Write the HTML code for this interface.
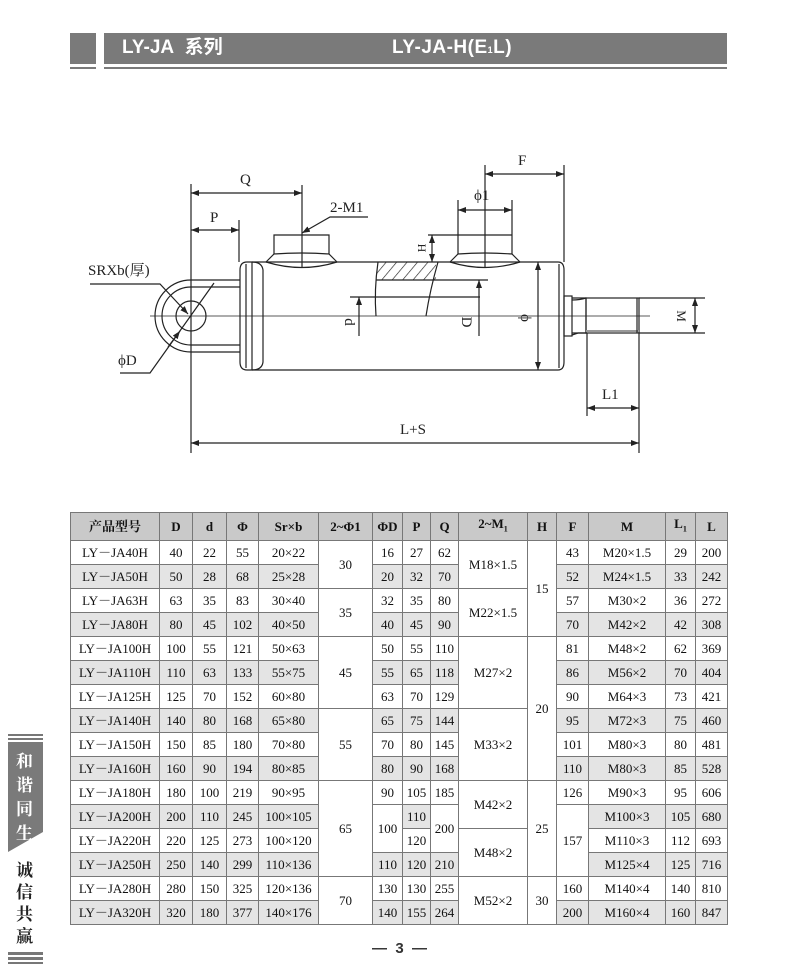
<!DOCTYPE html>
<html><head><meta charset="utf-8"><style>
body{margin:0;width:800px;height:974px;background:#fff;position:relative;overflow:hidden;font-family:"Liberation Serif","Noto Serif CJK SC",serif}
.abs{position:absolute}
table{position:absolute;left:70px;top:512px;border-collapse:collapse;table-layout:fixed;width:657px}
td{border:1px solid #777;text-align:center;font-size:13px;height:23px;padding:0;color:#111;line-height:13px}
tr.h td{background:#c9c9c9;height:27px;font-size:13px;font-weight:bold}
tr.g td.s{background:#e4e4e4}
</style></head><body>
<div class="abs" style="left:70px;top:33px;width:26px;height:31px;background:#7a7a7a"></div>
<div class="abs" style="left:104px;top:33px;width:623px;height:31px;background:#7a7a7a"></div>
<div class="abs" style="left:70px;top:67px;width:26px;height:2px;background:#7a7a7a"></div>
<div class="abs" style="left:104px;top:67px;width:623px;height:2px;background:#7a7a7a"></div>
<div class="abs" style="left:122px;top:37px;color:#fff;font:bold 19px 'Liberation Sans','Noto Sans CJK SC',sans-serif;line-height:22px">LY-JA&nbsp; 系列</div>
<div class="abs" style="left:392px;top:37px;color:#fff;font:bold 19px 'Liberation Sans',sans-serif;line-height:22px;letter-spacing:0.5px">LY-JA-H(E<span style="font-size:9px">1</span>L)</div>

<svg class="abs" style="left:0;top:0" width="800" height="480" viewBox="0 0 800 480" fill="none" stroke="#222" stroke-width="1.2" font-family="Liberation Serif" >
<defs><marker id="a" markerWidth="8" markerHeight="6" refX="8" refY="3" orient="auto-start-reverse" markerUnits="userSpaceOnUse"><path d="M0,0L8,3L0,6z" fill="#222" stroke="none"/></marker>
<pattern id="ht" width="8" height="8" patternUnits="userSpaceOnUse" patternTransform="rotate(40)"><line x1="0" y1="0" x2="0" y2="8" stroke="#222" stroke-width="1.3"/></pattern></defs>
<line x1="150" y1="316" x2="650" y2="316" stroke-width="0.8"/>
<line x1="191" y1="184" x2="191" y2="453"/>
<line x1="191" y1="193" x2="302" y2="193" marker-start="url(#a)" marker-end="url(#a)"/>
<line x1="302" y1="185" x2="302" y2="267"/>
<line x1="191" y1="230" x2="239" y2="230" marker-start="url(#a)" marker-end="url(#a)"/>
<line x1="239" y1="220" x2="239" y2="262"/>
<circle cx="191" cy="316" r="15"/>
<path d="M240,280 H191 A36,36 0 0 0 191,352 H240"/>
<path d="M240,287 H191 A29,29 0 0 0 191,345 H240"/>
<path d="M263,262 H247 Q240,262 240,270 V362 Q240,370 247,370 H263"/>
<line x1="246" y1="264" x2="246" y2="368"/>
<line x1="252" y1="262" x2="252" y2="370"/>
<path d="M252,262 Q262,262 263,270 V362 Q262,370 252,370"/>
<path d="M263,262 H558 Q564,262 564,270 V362 Q564,370 558,370 H263"/>
<line x1="559" y1="264" x2="559" y2="368"/>
<path d="M274,254 V235 H329 V254"/>
<path d="M266,262 L274,254 Q302,252 329,254 L337,262"/>
<path d="M266,262 Q302,273 337,262"/>
<path d="M458,254 V235 M512,235 V254"/>
<path d="M450,262 L458,254 Q485,252 512,254 L520,262"/>
<path d="M450,262 Q485,273 520,262"/>
<line x1="485" y1="165" x2="485" y2="267"/>
<rect x="376" y="262" width="60" height="18" fill="url(#ht)" stroke="none"/>
<line x1="376" y1="280" x2="488" y2="280"/>
<path d="M378,262 Q374,290 376,316" />
<path d="M438,262 Q430,290 426,316"/>
<line x1="350" y1="297" x2="480" y2="297"/>
<line x1="359" y1="336" x2="359" y2="297" marker-end="url(#a)"/>
<line x1="479" y1="336" x2="479" y2="280" marker-end="url(#a)"/>
<line x1="538" y1="262" x2="538" y2="370" marker-start="url(#a)" marker-end="url(#a)"/>
<line x1="428" y1="235" x2="512" y2="235"/>
<line x1="432" y1="235" x2="432" y2="262" marker-start="url(#a)" marker-end="url(#a)"/>
<line x1="458" y1="200" x2="458" y2="235"/><line x1="512" y1="200" x2="512" y2="235"/>
<line x1="458" y1="210" x2="512" y2="210" marker-start="url(#a)" marker-end="url(#a)"/>
<line x1="564" y1="165" x2="564" y2="262"/>
<line x1="485" y1="174" x2="564" y2="174" marker-start="url(#a)" marker-end="url(#a)"/>
<rect x="564" y="296" width="8" height="40"/>
<path d="M572,298 L578,298 L586,298 V333 H578 L572,335"/>
<path d="M572,300 Q580,300 586,298 M572,333 Q580,333 586,333"/>
<rect x="586" y="298" width="53" height="35"/>
<line x1="586" y1="331" x2="639" y2="331" stroke-width="2" stroke="#999"/>
<line x1="637" y1="298" x2="637" y2="333"/>
<line x1="639" y1="298" x2="705" y2="298"/><line x1="639" y1="333" x2="705" y2="333"/>
<line x1="695" y1="298" x2="695" y2="333" marker-start="url(#a)" marker-end="url(#a)"/>
<line x1="587" y1="333" x2="587" y2="416"/>
<line x1="639" y1="333" x2="639" y2="453"/>
<line x1="587" y1="408" x2="639" y2="408" marker-start="url(#a)" marker-end="url(#a)"/>
<line x1="191" y1="443" x2="639" y2="443" marker-start="url(#a)" marker-end="url(#a)"/>
<path d="M368,217 H330 L302,233" marker-end="url(#a)"/>
<path d="M90,284 H160 L188,314" marker-end="url(#a)"/>
<path d="M120,373 H150 L214,283" />
<line x1="168" y1="347" x2="180" y2="331" marker-end="url(#a)"/>
<g fill="#222" stroke="none" font-size="15">
<text x="240" y="184">Q</text>
<text x="210" y="222">P</text>
<text x="330" y="212">2-M1</text>
<text x="518" y="165">F</text>
<text x="474" y="200">ϕ1</text>
<text x="400" y="434">L+S</text>
<text x="602" y="399">L1</text>
<text x="88" y="275" font-family="Liberation Serif,Noto Serif CJK SC">SRXb(厚)</text>
<text x="118" y="365">ϕD</text>
<text transform="translate(418,248) rotate(90)" font-size="12" text-anchor="middle">H</text>
<text transform="translate(345,322) rotate(90)" text-anchor="middle">d</text>
<text transform="translate(462,322) rotate(90)" text-anchor="middle">D</text>
<text transform="translate(521,318) rotate(90)" text-anchor="middle">ϕ</text>
<text transform="translate(677,316) rotate(90)" font-size="13" text-anchor="middle">M</text>
</g>
</svg>

<table>
<colgroup><col style="width:89px"><col style="width:33px"><col style="width:34px"><col style="width:32px"><col style="width:60px"><col style="width:54px"><col style="width:30px"><col style="width:28px"><col style="width:28px"><col style="width:69px"><col style="width:29px"><col style="width:32px"><col style="width:77px"><col style="width:30px"><col style="width:32px"></colgroup>
<tr class="h"><td>产品型号</td><td>D</td><td>d</td><td>Φ</td><td>Sr×b</td><td>2~Φ1</td><td>ΦD</td><td>P</td><td>Q</td><td>2~M<sub style="font-size:8px">1</sub></td><td>H</td><td>F</td><td>M</td><td>L<sub style="font-size:8px">1</sub></td><td>L</td></tr>
<tr><td>LY－JA40H</td><td>40</td><td>22</td><td>55</td><td>20×22</td><td rowspan="2">30</td><td>16</td><td>27</td><td>62</td><td rowspan="2">M18×1.5</td><td rowspan="4">15</td><td>43</td><td>M20×1.5</td><td>29</td><td>200</td></tr>
<tr class="g"><td class="s">LY－JA50H</td><td class="s">50</td><td class="s">28</td><td class="s">68</td><td class="s">25×28</td><td class="s">20</td><td class="s">32</td><td class="s">70</td><td class="s">52</td><td class="s">M24×1.5</td><td class="s">33</td><td class="s">242</td></tr>
<tr><td>LY－JA63H</td><td>63</td><td>35</td><td>83</td><td>30×40</td><td rowspan="2">35</td><td>32</td><td>35</td><td>80</td><td rowspan="2">M22×1.5</td><td>57</td><td>M30×2</td><td>36</td><td>272</td></tr>
<tr class="g"><td class="s">LY－JA80H</td><td class="s">80</td><td class="s">45</td><td class="s">102</td><td class="s">40×50</td><td class="s">40</td><td class="s">45</td><td class="s">90</td><td class="s">70</td><td class="s">M42×2</td><td class="s">42</td><td class="s">308</td></tr>
<tr><td>LY－JA100H</td><td>100</td><td>55</td><td>121</td><td>50×63</td><td rowspan="3">45</td><td>50</td><td>55</td><td>110</td><td rowspan="3">M27×2</td><td rowspan="6">20</td><td>81</td><td>M48×2</td><td>62</td><td>369</td></tr>
<tr class="g"><td class="s">LY－JA110H</td><td class="s">110</td><td class="s">63</td><td class="s">133</td><td class="s">55×75</td><td class="s">55</td><td class="s">65</td><td class="s">118</td><td class="s">86</td><td class="s">M56×2</td><td class="s">70</td><td class="s">404</td></tr>
<tr><td>LY－JA125H</td><td>125</td><td>70</td><td>152</td><td>60×80</td><td>63</td><td>70</td><td>129</td><td>90</td><td>M64×3</td><td>73</td><td>421</td></tr>
<tr class="g"><td class="s">LY－JA140H</td><td class="s">140</td><td class="s">80</td><td class="s">168</td><td class="s">65×80</td><td rowspan="3">55</td><td class="s">65</td><td class="s">75</td><td class="s">144</td><td rowspan="3">M33×2</td><td class="s">95</td><td class="s">M72×3</td><td class="s">75</td><td class="s">460</td></tr>
<tr><td>LY－JA150H</td><td>150</td><td>85</td><td>180</td><td>70×80</td><td>70</td><td>80</td><td>145</td><td>101</td><td>M80×3</td><td>80</td><td>481</td></tr>
<tr class="g"><td class="s">LY－JA160H</td><td class="s">160</td><td class="s">90</td><td class="s">194</td><td class="s">80×85</td><td class="s">80</td><td class="s">90</td><td class="s">168</td><td class="s">110</td><td class="s">M80×3</td><td class="s">85</td><td class="s">528</td></tr>
<tr><td>LY－JA180H</td><td>180</td><td>100</td><td>219</td><td>90×95</td><td rowspan="4">65</td><td>90</td><td>105</td><td>185</td><td rowspan="2">M42×2</td><td rowspan="4">25</td><td>126</td><td>M90×3</td><td>95</td><td>606</td></tr>
<tr class="g"><td class="s">LY－JA200H</td><td class="s">200</td><td class="s">110</td><td class="s">245</td><td class="s">100×105</td><td rowspan="2">100</td><td class="s">110</td><td rowspan="2">200</td><td rowspan="3">157</td><td class="s">M100×3</td><td class="s">105</td><td class="s">680</td></tr>
<tr><td>LY－JA220H</td><td>220</td><td>125</td><td>273</td><td>100×120</td><td>120</td><td rowspan="2">M48×2</td><td>M110×3</td><td>112</td><td>693</td></tr>
<tr class="g"><td class="s">LY－JA250H</td><td class="s">250</td><td class="s">140</td><td class="s">299</td><td class="s">110×136</td><td class="s">110</td><td class="s">120</td><td class="s">210</td><td class="s">M125×4</td><td class="s">125</td><td class="s">716</td></tr>
<tr><td>LY－JA280H</td><td>280</td><td>150</td><td>325</td><td>120×136</td><td rowspan="2">70</td><td>130</td><td>130</td><td>255</td><td rowspan="2">M52×2</td><td rowspan="2">30</td><td>160</td><td>M140×4</td><td>140</td><td>810</td></tr>
<tr class="g"><td class="s">LY－JA320H</td><td class="s">320</td><td class="s">180</td><td class="s">377</td><td class="s">140×176</td><td class="s">140</td><td class="s">155</td><td class="s">264</td><td class="s">200</td><td class="s">M160×4</td><td class="s">160</td><td class="s">847</td></tr>
</table>

<div class="abs" style="left:8px;top:734px;width:35px;height:2px;background:#777"></div>
<div class="abs" style="left:8px;top:738px;width:35px;height:2px;background:#777"></div>
<svg class="abs" style="left:8px;top:742px" width="36" height="112"><polygon points="0,0 35,0 35,90 0,110" fill="#7a7a7a"/></svg>
<div class="abs" style="left:16px;top:748px;width:22px;color:#fff;font:bold 17px 'Noto Serif CJK SC',serif;line-height:24px">和<br>谐<br>同<br>生</div>
<div class="abs" style="left:16px;top:858px;width:22px;color:#222;font:bold 17px 'Noto Serif CJK SC',serif;line-height:22px">诚<br>信<br>共<br>赢</div>
<div class="abs" style="left:8px;top:952px;width:35px;height:3px;background:#777"></div>
<div class="abs" style="left:8px;top:957px;width:35px;height:3px;background:#777"></div>
<div class="abs" style="left:8px;top:962px;width:35px;height:2px;background:#777"></div>
<div class="abs" style="left:372px;top:940px;font:bold 15px 'Liberation Sans',sans-serif;color:#333">—&nbsp; 3 &nbsp;—</div>
</body></html>
